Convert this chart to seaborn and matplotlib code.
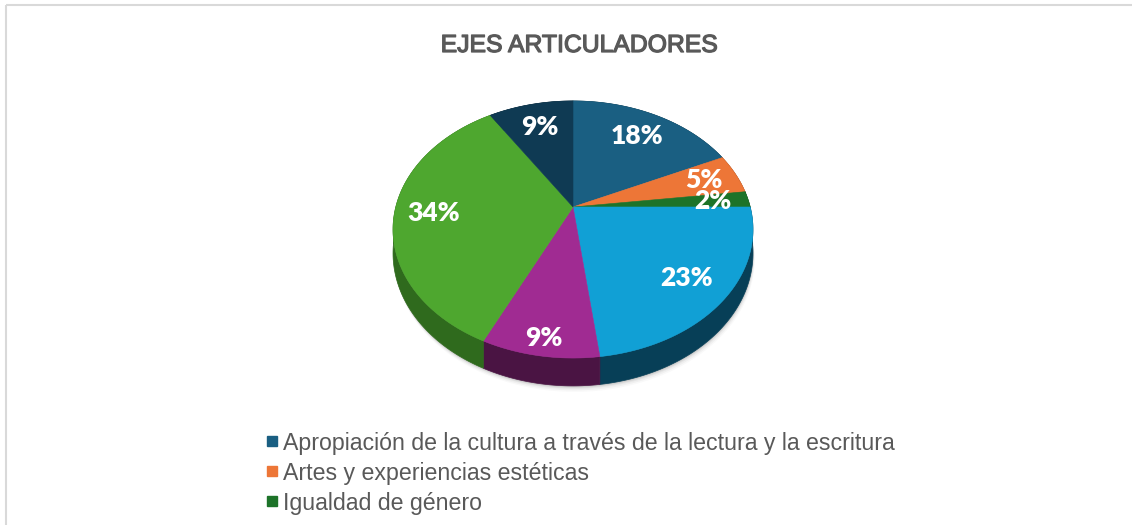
import numpy as np
import matplotlib
matplotlib.use("Agg")
import matplotlib.pyplot as plt
import matplotlib.patheffects as pe
from matplotlib.patches import Polygon, Rectangle
from matplotlib.lines import Line2D
import seaborn as sns

# ---------------- data ----------------
title = "EJES ARTICULADORES"
values = [18, 5, 2, 23, 9, 34, 9]
value_labels = [f"{v}%" for v in values]
legend_labels = [
    "Apropiación de la cultura a través de la lectura y la escritura",
    "Artes y experiencias estéticas",
    "Igualdad de género",
]
top_colors = ["#1a5f82", "#ed7637", "#1d7329", "#11a0d5", "#a02b92", "#4ea72f", "#0f3a53"]
side_colors = ["#0d3446", "#8a4219", "#0f4317", "#073f57", "#4a1443", "#2f6a1d", "#08212f"]
label_radius = [0.75, 0.8, 0.8, 0.78, 0.9, 0.78, 0.75]

# ---------------- style ----------------
sns.set_theme(style="white")
plt.rcParams['font.family'] = ['Lato', 'DejaVu Sans']
palette_top = sns.color_palette(top_colors)
palette_side = sns.color_palette(side_colors)

W, H = 1132, 525
fig = plt.figure(figsize=(W / 100, H / 100), dpi=100)
ax = fig.add_axes([0, 0, 1, 1])
ax.set_xlim(0, W)
ax.set_ylim(H, 0)
ax.axis('off')

# chart border (clipped on right / bottom like the reference)
ax.add_patch(Rectangle((5.5, 4.5), W + 10, H + 10, fill=False, edgecolor="#d9d9d9", lw=1.5))

# perspective projection of the tilted pie
cx, cy = 573, 207
A, B, C = 124.6, 0.175, 177.2
D0 = 23.0


def proj(r, theta):
    u = r * np.sin(theta)
    v = r * np.cos(theta)
    den = 1 + B * v
    return cx + C * u / den, cy - A * v / den


def depth(theta):
    return D0 / (1 + B * np.cos(theta))


fr = np.array(values, dtype=float) / np.sum(values)
edges = np.concatenate([[0], np.cumsum(fr)]) * 2 * np.pi

# soft shadow
tt = np.linspace(0, 2 * np.pi, 400)
sx, sy = proj(1.0, tt)
sy = sy + depth(tt)
for k, a in zip([12, 9, 6, 4, 2], [0.025, 0.035, 0.045, 0.06, 0.08]):
    ax.add_patch(Polygon(np.column_stack([sx + k * 0.15, sy + k * 0.5]), closed=True,
                         facecolor="black", alpha=a, edgecolor="none", zorder=1))

# sides
for i in range(len(values)):
    th = np.linspace(edges[i], edges[i + 1], 120)
    x, y = proj(1.0, th)
    yb = y + depth(th)
    pts = np.concatenate([np.column_stack([x, y]), np.column_stack([x, yb])[::-1]])
    ax.add_patch(Polygon(pts, closed=True, facecolor=palette_side[i],
                         edgecolor=palette_side[i], lw=0.5, zorder=2))

# top faces
for i in range(len(values)):
    th = np.linspace(edges[i], edges[i + 1], 120)
    x, y = proj(1.0, th)
    pts = np.concatenate([[[cx, cy]], np.column_stack([x, y])])
    ax.add_patch(Polygon(pts, closed=True, facecolor=palette_top[i],
                         edgecolor=palette_top[i], lw=0.4, zorder=3))

# labels
for i, lab in enumerate(value_labels):
    mid = 0.5 * (edges[i] + edges[i + 1])
    lx, ly = proj(label_radius[i], mid)
    ax.text(lx, ly, lab, color="white", fontsize=19, fontweight="heavy",
            ha="center", va="center", zorder=5)

# title
ax.text(579, 45, title, fontsize=17.8, color="#595959", ha="center", va="center",
        family=["Liberation Sans", "DejaVu Sans"], zorder=5,
        path_effects=[pe.withStroke(linewidth=0.9, foreground="#595959")])

# legend
handles = [Line2D([0], [0], marker="s", linestyle="none", markersize=7.5,
                  markerfacecolor=palette_top[i], markeredgecolor=palette_top[i])
           for i in range(len(legend_labels))]
leg = ax.legend(handles, legend_labels, loc="upper left",
                bbox_to_anchor=(253 / W, 1 - 420 / H), frameon=False,
                prop={"family": ["Liberation Sans", "DejaVu Sans"], "size": 16.7},
                handlelength=0.6, handletextpad=0.2, labelspacing=0.3, borderpad=0)
for t in leg.get_texts():
    t.set_color("#595959")

fig.savefig("out.png", dpi=100)
